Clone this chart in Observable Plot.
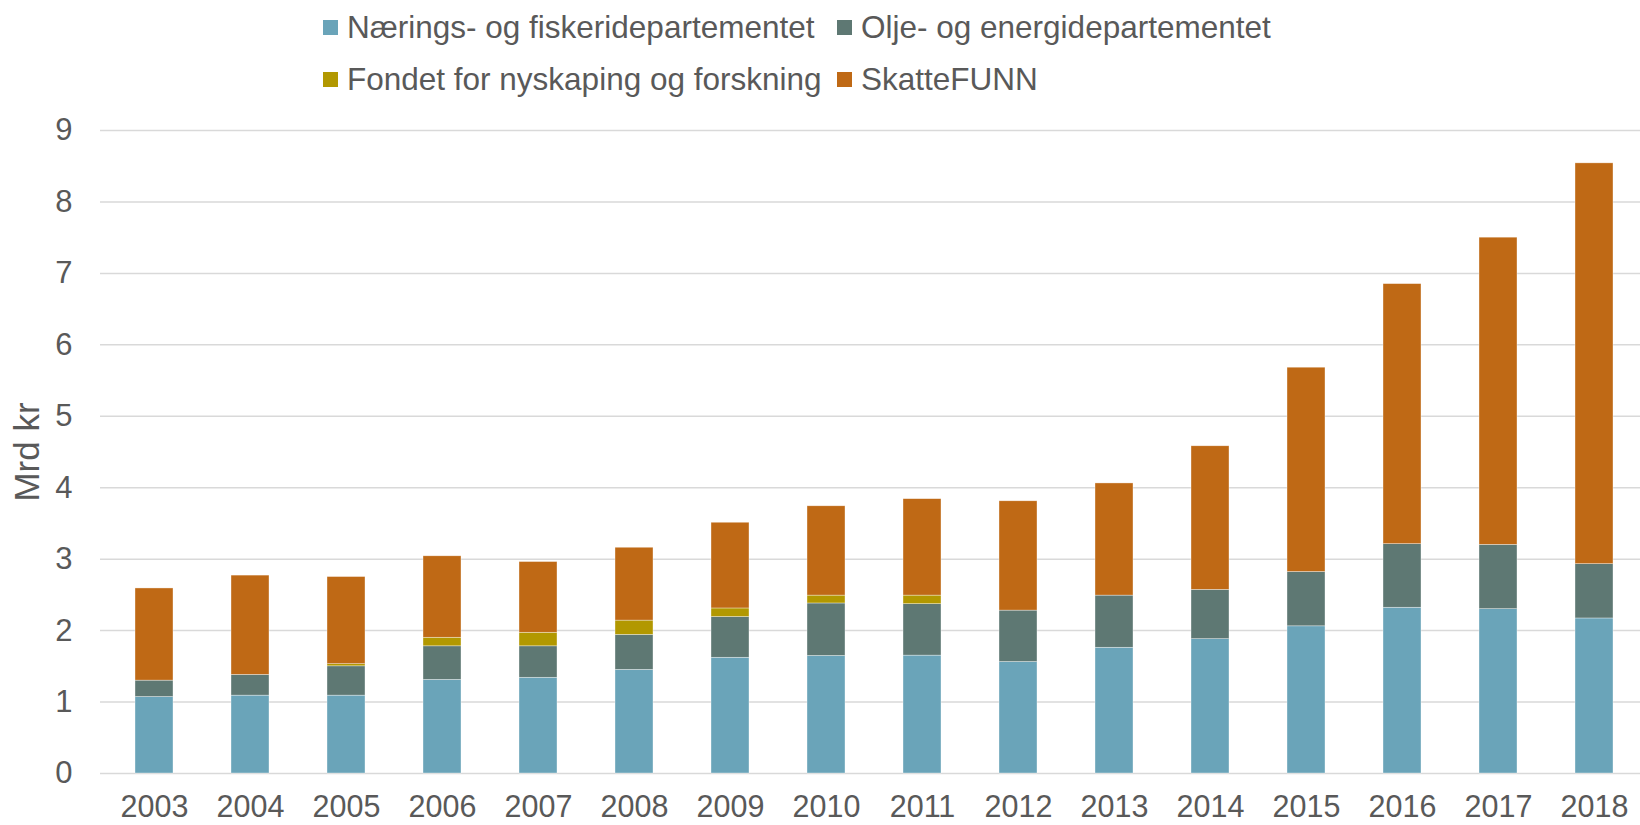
<!DOCTYPE html>
<html>
<head>
<meta charset="utf-8">
<script src="https://cdn.jsdelivr.net/npm/d3@7"></script>
<script src="https://cdn.jsdelivr.net/npm/@observablehq/plot@0.6"></script>
<style>
  html, body { margin: 0; padding: 0; background: #fff; }
  body { width: 1640px; height: 825px; position: relative; overflow: hidden; font-family: "Liberation Sans", Arial, sans-serif; color: #595959; }
  #legend { position: absolute; left: 323px; top: 1px; display: grid; grid-template-columns: 514px auto; grid-auto-rows: 52px; font-size: 31.5px; z-index: 2; }
  .item { display: flex; align-items: center; white-space: nowrap; }
  .sw { width: 15px; height: 15px; margin-right: 9px; flex: none; }
  #chart { position: absolute; left: 0; top: 0; }
</style>
</head>
<body>
<div id="legend"></div>
<div id="chart"></div>
<script>
const years = ["2003","2004","2005","2006","2007","2008","2009","2010","2011","2012","2013","2014","2015","2016","2017","2018"];
const seriesNames = ["Nærings- og fiskeridepartementet", "Olje- og energidepartementet", "Fondet for nyskaping og forskning", "SkatteFUNN"];
const seriesColors = ["#6aa4b9", "#5e7873", "#b29800", "#bf6915"];
const naering = [1.07, 1.09, 1.09, 1.31, 1.34, 1.45, 1.62, 1.645, 1.65, 1.56, 1.76, 1.88, 2.06, 2.32, 2.30, 2.17];
const olje    = [0.23, 0.29, 0.41, 0.47, 0.44, 0.49, 0.57, 0.735, 0.72, 0.72, 0.73, 0.69, 0.76, 0.89, 0.90, 0.76];
const fondet  = [0, 0, 0.03, 0.12, 0.19, 0.20, 0.12, 0.11, 0.12, 0, 0, 0, 0, 0, 0, 0];
const skatte  = [1.29, 1.39, 1.22, 1.14, 0.99, 1.02, 1.20, 1.25, 1.35, 1.53, 1.57, 2.01, 2.86, 3.64, 4.30, 5.61];
const yTicks = [0, 1, 2, 3, 4, 5, 6, 7, 8, 9];

const seriesValues = [naering, olje, fondet, skatte];
const data = [];
years.forEach((yr, i) => {
  seriesNames.forEach((s, k) => data.push({year: yr, series: s, value: seriesValues[k][i]}));
});

// legend (HTML, above the plot area)
const legend = document.getElementById("legend");
seriesNames.forEach((s, k) => {
  const it = document.createElement("div");
  it.className = "item";
  const sw = document.createElement("span");
  sw.className = "sw";
  sw.style.background = seriesColors[k];
  const tx = document.createElement("span");
  tx.textContent = s;
  it.appendChild(sw); it.appendChild(tx);
  legend.appendChild(it);
});

const chart = Plot.plot({
  width: 1640,
  height: 825,
  marginTop: 130,
  marginBottom: 52,
  marginLeft: 100,
  marginRight: 0,
  style: {fontFamily: "'Liberation Sans', Arial, sans-serif", fontSize: "31px", color: "#595959", background: "white", overflow: "visible"},
  x: {domain: years, range: [100, 1649], paddingInner: 0.6, paddingOuter: 0.3, label: null},
  y: {domain: [0, 9], ticks: yTicks, label: null},
  color: {domain: seriesNames, range: seriesColors},
  marks: [
    Plot.gridY(yTicks, {stroke: "#d9d9d9", strokeOpacity: 1, strokeWidth: 1.5}),
    Plot.barY(data, Plot.stackY({x: "year", y: "value", fill: "series", order: seriesNames, stroke: "white", strokeWidth: 0.6, strokeOpacity: 0.6})),
    Plot.axisY(yTicks, {tickSize: 0, tickPadding: 28, fill: "#595959", fontSize: 31, tickFormat: (d) => String(d), label: null}),
    Plot.axisX({tickSize: 0, tickPadding: 22, fill: "#595959", fontSize: 30.5, label: null}),
    Plot.text(["Mrd kr"], {frameAnchor: "left", textAnchor: "middle", dx: -73, rotate: -90, fill: "#595959", fontSize: 35})
  ]
});
document.getElementById("chart").appendChild(chart);
</script>
</body>
</html>
